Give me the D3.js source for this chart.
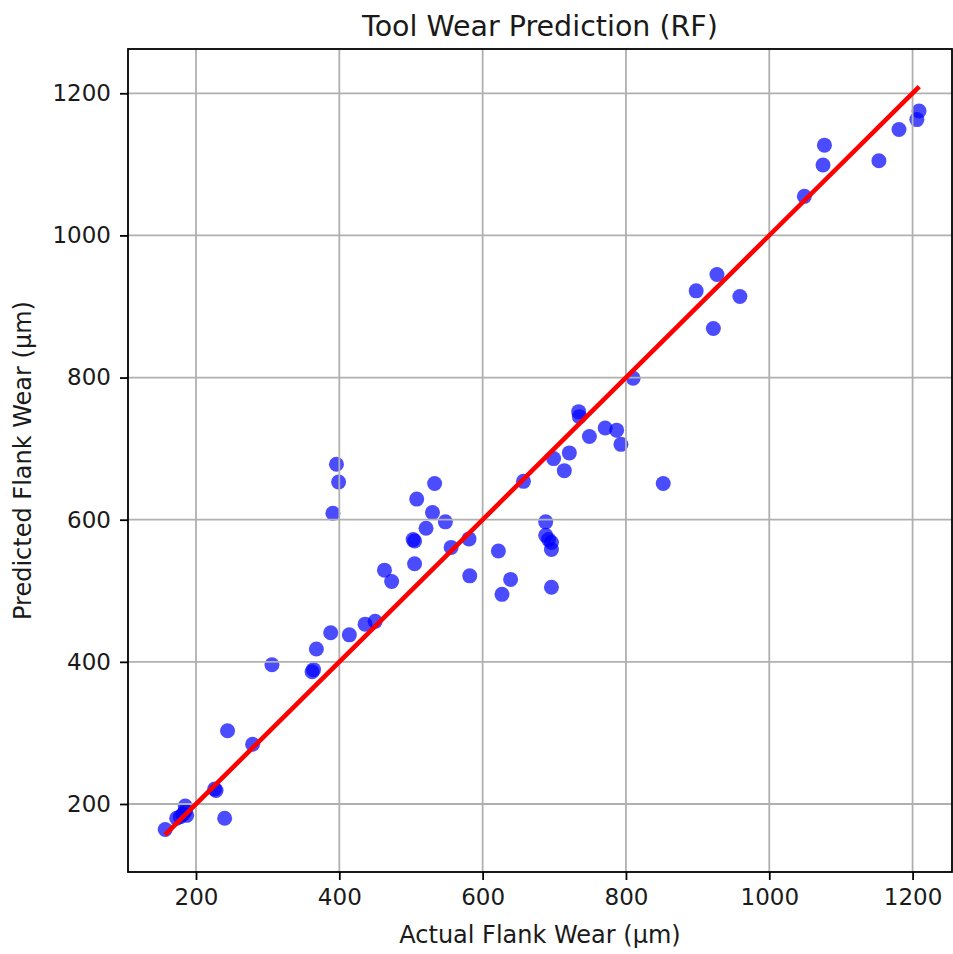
<!DOCTYPE html>
<html>
<head>
<meta charset="utf-8">
<script src="https://cdn.jsdelivr.net/npm/d3@7"></script>
<style>
  body { margin: 0; background: #fff; }
  svg { display: block; font-family: "DejaVu Sans", sans-serif; }
</style>
</head>
<body>
<div class="canvas"></div>
<script>
// actual vs predicted flank wear (µm)
const actual = [157, 173, 178, 182, 185, 185, 187, 226, 228, 240,
  244, 279, 306, 362, 364, 368, 388, 391, 396, 399,
  414, 436, 450, 463, 473, 503, 505, 505, 508, 521,
  530, 533, 548, 556, 581, 582, 622, 627, 639, 657,
  688, 688, 692, 696, 696, 696, 699, 714, 721, 734,
  735, 749, 771, 787, 793, 810, 852, 898, 922, 927,
  959, 1049, 1075, 1077, 1153, 1181, 1206, 1209]
const predicted = [164, 180, 182, 186, 190, 197, 184, 221, 219, 180,
  303, 284, 396, 386, 389, 418, 441, 609, 678, 653,
  438, 453, 457, 529, 513, 572, 570, 538, 629, 588,
  610, 651, 597, 561, 573, 521, 556, 495, 516, 654,
  597, 578, 572, 568, 558, 505, 686, 669, 694, 752,
  745, 717, 729, 726, 706, 799, 651, 922, 869, 945,
  914, 1055, 1099, 1127, 1105, 1149, 1163, 1175]

// perfect prediction line (y = x)
const idealLine = [159, 1207]

const xTicks = [200, 400, 600, 800, 1000, 1200]
const yTicks = [200, 400, 600, 800, 1000, 1200]

const dims = { width: 953, height: 954 }
const box = { left: 128, top: 49, right: 952, bottom: 872 }

const svg = d3.select('.canvas')
              .append('svg')
              .attr('width', dims.width)
              .attr('height', dims.height)

const x = d3.scaleLinear().domain([105.1, 1255]).range([box.left, box.right])
const y = d3.scaleLinear().domain([104.3, 1262.3]).range([box.bottom, box.top])

const points = actual.map((a, i) => ({ a, p: predicted[i] }))

// scatter (matplotlib draws collections under the grid)
svg.append('g')
   .selectAll('circle')
   .data(points)
   .enter()
   .append('circle')
   .attr('cx', d => x(d.a))
   .attr('cy', d => y(d.p))
   .attr('r', 7.5)
   .attr('fill', 'blue')
   .attr('fill-opacity', 0.7)

// grid
const grid = svg.append('g').attr('class', 'grid')
grid.selectAll('.gx')
    .data(xTicks)
    .enter()
    .append('line')
    .attr('x1', d => x(d)).attr('x2', d => x(d))
    .attr('y1', box.top).attr('y2', box.bottom)
grid.selectAll('.gy')
    .data(yTicks)
    .enter()
    .append('line')
    .attr('y1', d => y(d)).attr('y2', d => y(d))
    .attr('x1', box.left).attr('x2', box.right)
grid.selectAll('line')
    .attr('stroke', '#b0b0b0')
    .attr('stroke-width', 1.8)

// ideal line
svg.append('line')
   .attr('x1', x(idealLine[0])).attr('y1', y(idealLine[0]))
   .attr('x2', x(idealLine[1])).attr('y2', y(idealLine[1]))
   .attr('stroke', 'red')
   .attr('stroke-width', 4.6)
   .attr('stroke-linecap', 'square')

// axes
const fmt = d3.format('d')
const xAxis = d3.axisBottom(x).tickValues(xTicks).tickFormat(fmt).tickSize(8).tickPadding(9).tickSizeOuter(0)
const yAxis = d3.axisLeft(y).tickValues(yTicks).tickFormat(fmt).tickSize(8).tickPadding(9).tickSizeOuter(0)

const gx = svg.append('g')
              .attr('transform', `translate(0, ${box.bottom})`)
              .call(xAxis)
const gy = svg.append('g')
              .attr('transform', `translate(${box.left}, 0)`)
              .call(yAxis)

svg.selectAll('.domain').remove()
svg.selectAll('.tick line').attr('stroke', '#000').attr('stroke-width', 1.8)
svg.selectAll('.tick text')
   .attr('fill', '#1a1a1a')
   .style('font-size', '23px')
   .style('font-family', '"DejaVu Sans", sans-serif')

// spines
svg.append('rect')
   .attr('x', box.left)
   .attr('y', box.top)
   .attr('width', box.right - box.left)
   .attr('height', box.bottom - box.top)
   .attr('fill', 'none')
   .attr('stroke', '#000')
   .attr('stroke-width', 1.8)

// title and labels
svg.append('text')
   .attr('x', (box.left + box.right) / 2)
   .attr('y', 36)
   .attr('text-anchor', 'middle')
   .attr('fill', '#1a1a1a')
   .style('font-size', '28.5px')
   .text('Tool Wear Prediction (RF)')

svg.append('text')
   .attr('x', (box.left + box.right) / 2)
   .attr('y', 943)
   .attr('text-anchor', 'middle')
   .attr('fill', '#1a1a1a')
   .style('font-size', '24px')
   .text('Actual Flank Wear (µm)')

svg.append('text')
   .attr('transform', `translate(31, ${(box.top + box.bottom) / 2}) rotate(-90)`)
   .attr('text-anchor', 'middle')
   .attr('fill', '#1a1a1a')
   .style('font-size', '24px')
   .text('Predicted Flank Wear (µm)')
</script>
</body>
</html>
